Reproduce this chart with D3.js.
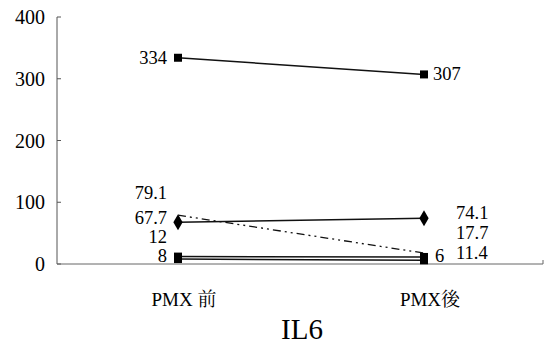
<!DOCTYPE html>
<html>
<head>
<meta charset="utf-8">
<script src="https://cdn.jsdelivr.net/npm/d3@7"></script>
<style>
  body { margin: 0; background: #fff; }
</style>
</head>
<body>
<script>
// categories on the x axis
var groups = ["PMX 前", "PMX後"];

// one array per patient line: [before, after]
var seriesA = [334, 307];
var seriesB = [67.7, 74.1];
var seriesC = [79.1, 17.7];
var seriesD = [12, 11.4];
var seriesE = [8, 6];

var yTicks = [0, 100, 200, 300, 400];

var lines = [
  { vals: seriesA, marker: "square", dash: null },
  { vals: seriesB, marker: "diamond", dash: null },
  { vals: seriesC, marker: "none", dash: "8,4,2,4,2,4" },
  { vals: seriesD, marker: "square", dash: null },
  { vals: seriesE, marker: "square", dash: null }
];

// label offsets (pixels) so the stacked numbers don't overlap
var leftLabels = [
  { v: seriesA[0], dy: 0 },
  { v: seriesC[0], dy: -22 },
  { v: seriesB[0], dy: -4 },
  { v: seriesD[0], dy: -20 },
  { v: seriesE[0], dy: -3 }
];
var rightLabels = [
  { v: seriesA[1], dy: 0, dx: 9 },
  { v: seriesB[1], dy: -5, dx: 32 },
  { v: seriesC[1], dy: -20, dx: 32 },
  { v: seriesD[1], dy: -4, dx: 32 },
  { v: seriesE[1], dy: -4, dx: 11 }
];

var width = 545, height = 351;
var font = "'Liberation Serif', 'Noto Serif CJK JP', serif";

var svg = d3.select("body").append("svg")
    .attr("width", width)
    .attr("height", height);

var y = d3.scaleLinear().domain([0, 400]).range([264, 17]);
var x = d3.scalePoint().domain(groups).range([178, 424]);

// y axis
svg.append("line")
    .attr("x1", 57).attr("x2", 57)
    .attr("y1", y(400)).attr("y2", y(0))
    .attr("stroke", "#555").attr("stroke-width", 1);

svg.selectAll(".ytick")
    .data(yTicks)
    .enter().append("line")
    .attr("x1", 57).attr("x2", 61)
    .attr("y1", d => y(d)).attr("y2", d => y(d))
    .attr("stroke", "#555");

svg.selectAll(".ylab")
    .data(yTicks)
    .enter().append("text")
    .attr("x", 45)
    .attr("y", d => y(d) + 7)
    .attr("text-anchor", "end")
    .style("font-family", font)
    .style("font-size", "20px")
    .text(d => d);

// x axis
svg.append("line")
    .attr("x1", 57).attr("x2", 543)
    .attr("y1", y(0)).attr("y2", y(0))
    .attr("stroke", "#666").attr("stroke-width", 1);
svg.append("line")
    .attr("x1", 543).attr("x2", 543)
    .attr("y1", y(0)).attr("y2", y(0) - 4)
    .attr("stroke", "#666");

// lines
var line = d3.line()
    .x((d, i) => x(groups[i]))
    .y(d => y(d));

lines.forEach(function (s) {
  svg.append("path")
      .attr("d", line(s.vals))
      .attr("fill", "none")
      .attr("stroke", "#111")
      .attr("stroke-width", s.dash ? 1.3 : 1.5)
      .attr("stroke-dasharray", s.dash);

  if (s.marker === "none") return;
  var sym = d3.symbol()
      .type(s.marker === "square" ? d3.symbolSquare : d3.symbolDiamond)
      .size(s.marker === "square" ? 64 : 75);
  svg.selectAll(null)
      .data(s.vals)
      .enter().append("path")
      .attr("d", sym)
      .attr("transform", (d, i) => "translate(" + x(groups[i]) + "," + y(d) + ")")
      .attr("fill", "#000");
});

// value labels
svg.selectAll(".llab")
    .data(leftLabels)
    .enter().append("text")
    .attr("x", x(groups[0]) - 11)
    .attr("y", d => y(d.v) + d.dy + 6)
    .attr("text-anchor", "end")
    .style("font-family", font)
    .style("font-size", "18.5px")
    .text(d => d.v);

svg.selectAll(".rlab")
    .data(rightLabels)
    .enter().append("text")
    .attr("x", d => x(groups[1]) + d.dx)
    .attr("y", d => y(d.v) + d.dy + 6)
    .style("font-family", font)
    .style("font-size", "18.5px")
    .text(d => d.v);

// category labels
svg.selectAll(".xlab")
    .data(groups)
    .enter().append("text")
    .attr("x", d => x(d) + 6)
    .attr("y", 306)
    .attr("text-anchor", "middle")
    .style("font-family", font)
    .style("font-size", "19px")
    .text(d => d);

svg.append("text")
    .attr("x", 302)
    .attr("y", 339)
    .attr("text-anchor", "middle")
    .style("font-family", font)
    .style("font-size", "29px")
    .text("IL6");
</script>
</body>
</html>
